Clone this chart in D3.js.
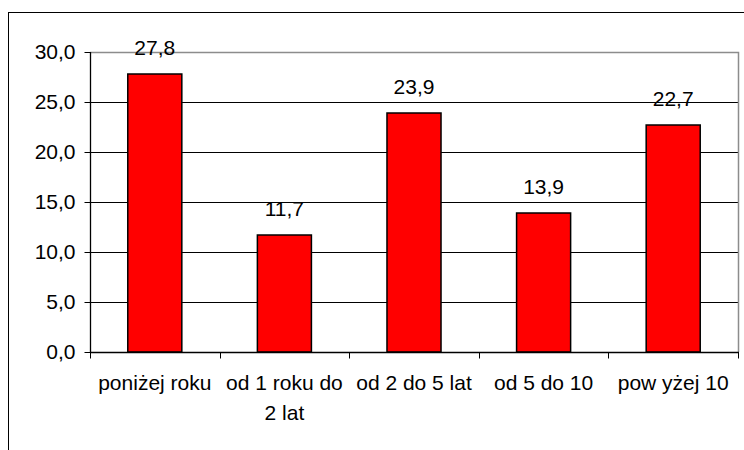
<!DOCTYPE html>
<html><head><meta charset="utf-8">
<script src="https://cdn.jsdelivr.net/npm/d3@7"></script>
<style>body{margin:0;background:#fff}svg{display:block}text{font-family:"Liberation Sans",Arial,sans-serif;fill:#000}</style>
</head><body>
<script>
const categories = [["poniżej roku"], ["od 1 roku do", "2 lat"], ["od 2 do 5 lat"], ["od 5 do 10"], ["pow yżej 10"]];
const values = [27.8, 11.7, 23.9, 13.9, 22.7];
const yTicks = [0, 5, 10, 15, 20, 25, 30];

const W = 744, H = 450, FS = 21;
const svg = d3.select("body").append("svg").attr("width", W).attr("height", H);
svg.append("rect").attr("x", 8.5).attr("y", 12.5).attr("width", 760).attr("height", 460)
  .attr("fill", "#fff").attr("stroke", "#000").attr("stroke-width", 1);

const L = 90, R = 738, T = 52, B = 352;
const fmt = v => v.toFixed(1).replace(".", ",");
const x = d3.scaleBand().domain(d3.range(values.length)).range([L, R]).paddingInner(0.583).paddingOuter(0.2915);
const y = d3.scaleLinear().domain([0, 30]).range([B, T]);

// gridlines
svg.append("g").selectAll("line").data(yTicks.filter(t => t > 0 && t < 30)).join("line")
  .attr("x1", L).attr("x2", R).attr("y1", d => y(d) + 0.5).attr("y2", d => y(d) + 0.5)
  .attr("stroke", "#000").attr("stroke-width", 1);
// plot border top/right gray
svg.append("path").attr("d", `M${L},${T + 0.5}H${R + 0.5}V${B}`).attr("fill", "none").attr("stroke", "#8c8c8c").attr("stroke-width", 1.5);

// bars
svg.append("g").selectAll("rect").data(values).join("rect")
  .attr("x", (d, i) => x(i)).attr("width", x.bandwidth())
  .attr("y", d => y(d)).attr("height", d => B - y(d))
  .attr("fill", "#ff0000").attr("stroke", "#000").attr("stroke-width", 1.5);

// value labels
svg.append("g").selectAll("text").data(values).join("text")
  .attr("x", (d, i) => x(i) + x.bandwidth() / 2).attr("y", d => y(d) - 19)
  .attr("text-anchor", "middle").attr("font-size", FS).text(d => fmt(d));

// y axis
const ya = svg.append("g").attr("transform", `translate(${L + 0.5},0)`)
  .call(d3.axisLeft(y).tickValues(yTicks).tickSize(6).tickPadding(9).tickFormat(fmt));
ya.select(".domain").attr("d", `M0,${T}V${B + 0.5}`).attr("stroke", "#000").attr("stroke-width", 1.3);
ya.selectAll(".tick line").attr("stroke", "#000");
ya.selectAll(".tick text").attr("font-size", FS).attr("font-family", '"Liberation Sans",Arial,sans-serif').attr("fill", "#000");

// x axis
const xt = d3.scaleLinear().domain([0, values.length]).range([L, R]);
const xa = svg.append("g").attr("transform", `translate(0,${B + 0.5})`);
xa.append("line").attr("x1", L).attr("x2", R + 1).attr("stroke", "#000").attr("stroke-width", 1.3);
xa.selectAll("line.tk").data(d3.range(values.length + 1)).join("line").attr("class", "tk")
  .attr("x1", d => Math.round(xt(d)) + 0.5).attr("x2", d => Math.round(xt(d)) + 0.5).attr("y1", 0).attr("y2", 6).attr("stroke", "#000");
const labels = svg.append("g").selectAll("text").data(categories).join("text")
  .attr("x", (d, i) => x(i) + x.bandwidth() / 2).attr("y", 390)
  .attr("text-anchor", "middle").attr("font-size", FS);
labels.selectAll("tspan").data(d => d).join("tspan")
  .attr("x", function () { return d3.select(this.parentNode).attr("x"); })
  .attr("dy", (d, j) => j === 0 ? 0 : 30).text(d => d);
</script>
</body></html>
